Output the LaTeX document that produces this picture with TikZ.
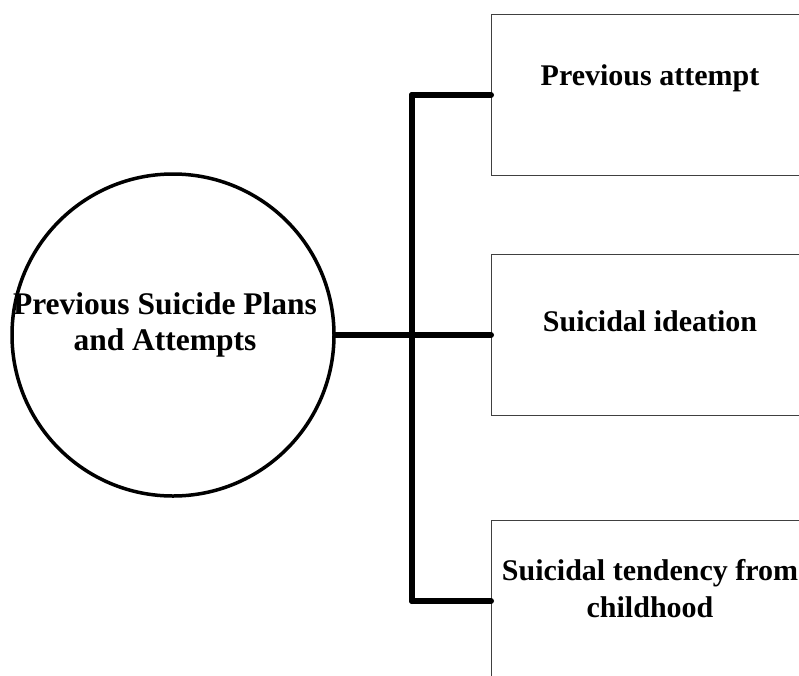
\documentclass[tikz,border=0pt]{standalone}
\usepackage{fontspec}
\setmainfont{Liberation Serif}
\begin{document}
\begin{tikzpicture}[x=1pt,y=-1pt,
  hub/.style={draw=black, line width=3.5pt, circle, minimum size=322pt, inner sep=0pt},
  itembox/.style={draw=black!75, line width=1pt, rectangle, minimum width=330pt, minimum height=161pt, inner sep=0pt, anchor=north west},
  label/.style={font=\fontsize{30}{37}\selectfont\bfseries, align=center, inner sep=0pt},
  biglabel/.style={label, font=\fontsize{31.5}{36}\selectfont\bfseries},
  link/.style={line width=6pt, line cap=round, line join=round}]
  \useasboundingbox (0,0) rectangle (799,675);

  % central theme
  \node[hub] (hub) at (173,335) {};
  \node[biglabel] (hubtext) at (165,325) {Previous Suicide Plans\\and Attempts};

  % sub-theme boxes
  \node[itembox] (b1) at (491,14) {};
  \node[itembox] (b2) at (491,254) {};
  \node[itembox] (b3) at (491,520) {};
  \node[label] (t1) at (650,78) {Previous attempt};
  \node[label] (t2) at (650,321) {Suicidal ideation};
  \node[label] (t3) at (650,589) {Suicidal tendency from\\childhood};

  % bracket connector
  \coordinate (s1) at (412,95);
  \coordinate (s2) at (412,335);
  \coordinate (s3) at (412,601);
  \draw[link] (hub.east) -- (s2);
  \draw[link] (s1) -- (s3);
  \draw[link] (s1) -- (b1.west |- s1);
  \draw[link] (s2) -- (b2.west |- s2);
  \draw[link] (s3) -- (b3.west |- s3);
\end{tikzpicture}
\end{document}
